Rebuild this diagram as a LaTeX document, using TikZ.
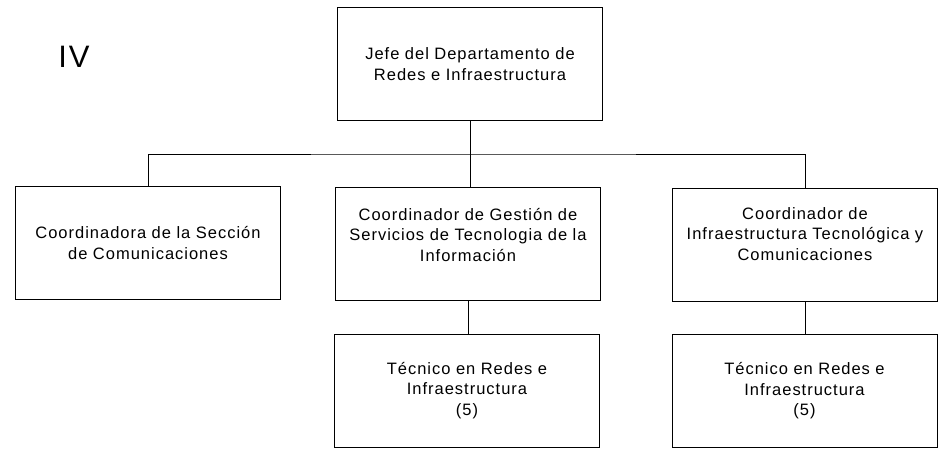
\documentclass[tikz,border=0pt]{standalone}
\usepackage{fontspec}
\setmainfont{Liberation Sans}[LetterSpace=6]
\begin{document}
\begin{tikzpicture}[x=1pt, y=-1pt,
		caja/.style={draw, line width=0.8pt, minimum width=265pt, minimum height=113pt, text width=250pt, align=center, font=\fontsize{16.5}{20.5}\selectfont},
		linea/.style={line width=0.8pt}]
			\useasboundingbox (0,0) rectangle (940,454);
			\node[font=\fontsize{31}{31}\selectfont] (nivel) at (74,57) {IV};
			\node[caja] (jefe) at (470,64) {Jefe del Departamento de\\Redes e Infraestructura};
			\node[caja] (seccion) at (148,243) {Coordinadora de la Sección\\de Comunicaciones};
			\node[caja, text depth=59pt] (gestion) at (468,243.5) {Coordinador de Gestión de\\Servicios de Tecnologia de la\\Información};
			\node[caja, text depth=63pt] (infra) at (805,245) {Coordinador de\\Infraestructura Tecnológica y\\Comunicaciones};
			\node[caja] (tecA) at (467,390.5) {Técnico en Redes e\\Infraestructura\\(5)};
			\node[caja] (tecB) at (804.5,391) {Técnico en Redes e\\Infraestructura\\(5)};
			\coordinate (bus) at (470,154);
			\draw[linea] (jefe.south) -- (jefe.south |- gestion.north);
			\draw[linea] (seccion.north) |- (bus) -| (infra.north);
			\draw[linea] (gestion.south) -- (gestion.south |- tecA.north);
			\draw[linea] (infra.south) -- (infra.south |- tecB.north);
		\end{tikzpicture}
\end{document}
